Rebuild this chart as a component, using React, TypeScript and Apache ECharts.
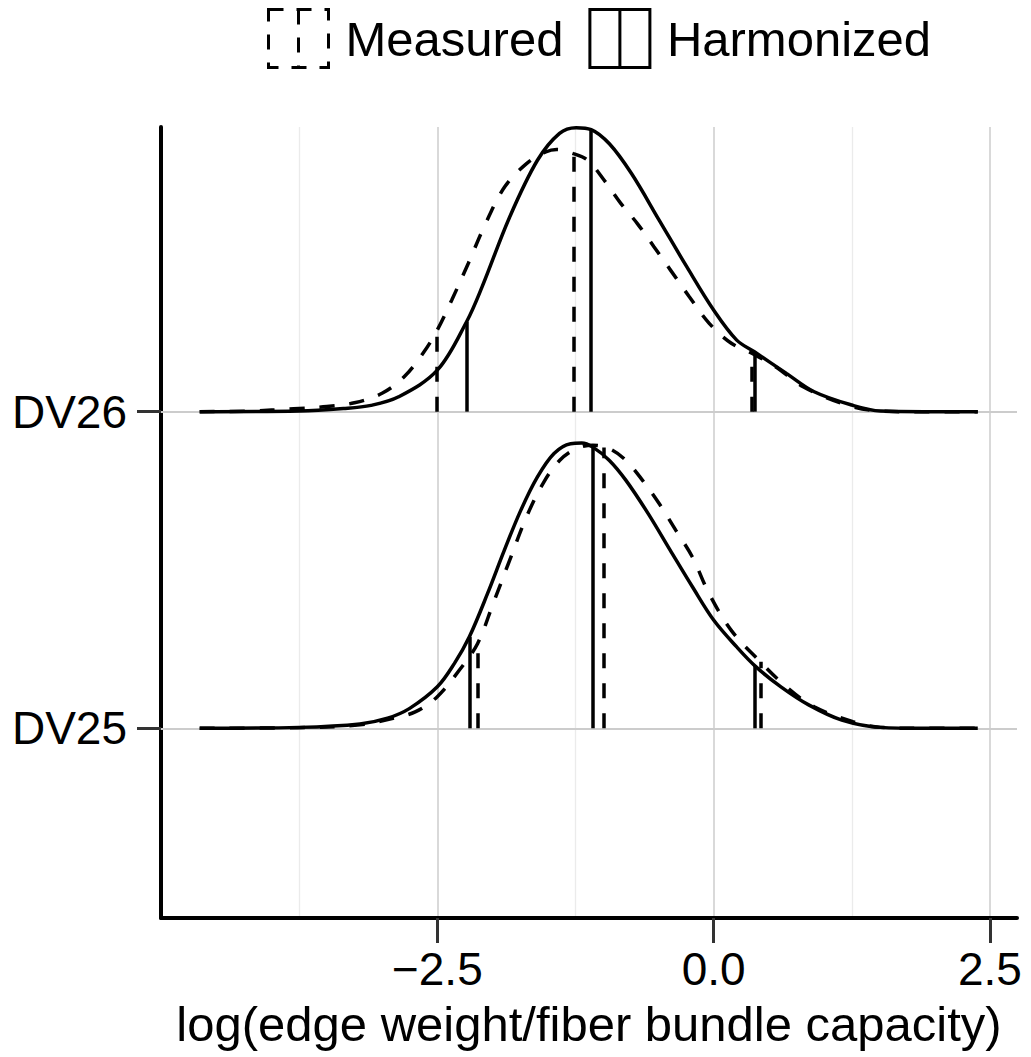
import React, { useEffect, useRef } from "react";
import * as echarts from "echarts";

// ---- Data ----
const groups = ["DV25", "DV26"];
const groupBaselines = [1, 2];

// Density heights in ridge units (1 = spacing between ridges)
const dv25HarmX = [-4.65, -3.75, -3.2, -2.95, -2.75, -2.5, -2.345, -2.21, -2.045, -1.894, -1.744, -1.594, -1.444, -1.294, -1.193, -1.093, -0.943, -0.793, -0.592, -0.392, -0.192, 0.0, 0.209, 0.384, 0.609, 0.86, 1.16, 1.51, 1.9, 2.39];
const dv25HarmH = [0, 0.003, 0.014, 0.032, 0.063, 0.131, 0.205, 0.289, 0.426, 0.562, 0.689, 0.794, 0.868, 0.899, 0.901, 0.888, 0.846, 0.783, 0.678, 0.562, 0.447, 0.342, 0.257, 0.194, 0.131, 0.074, 0.026, 0.003, 0, 0];

const dv25MeasX = [-4.65, -3.75, -3.2, -2.9, -2.7, -2.5, -2.3, -2.135, -1.995, -1.845, -1.694, -1.544, -1.394, -1.244, -1.093, -0.943, -0.793, -0.643, -0.493, -0.343, -0.192, -0.042, 0.158, 0.409, 0.659, 0.91, 1.26, 1.51, 1.9, 2.39];
const dv25MeasH = [0, 0.002, 0.011, 0.032, 0.052, 0.1, 0.184, 0.268, 0.394, 0.531, 0.667, 0.773, 0.846, 0.883, 0.894, 0.883, 0.846, 0.783, 0.71, 0.626, 0.541, 0.426, 0.31, 0.215, 0.131, 0.068, 0.021, 0.003, 0, 0];

const dv26HarmX = [-4.65, -3.75, -3.35, -3.1, -2.85, -2.5, -2.235, -2.095, -1.845, -1.594, -1.394, -1.244, -1.108, -0.943, -0.743, -0.493, -0.242, 0.0, 0.209, 0.369, 0.659, 0.91, 1.25, 1.51, 1.9, 2.39];
const dv26HarmH = [0, 0.002, 0.01, 0.02, 0.047, 0.131, 0.284, 0.394, 0.615, 0.794, 0.879, 0.897, 0.891, 0.846, 0.752, 0.605, 0.457, 0.321, 0.226, 0.189, 0.121, 0.063, 0.021, 0.002, 0, 0];

const dv26MeasX = [-4.65, -4.2, -3.8, -3.5, -3.25, -3.0, -2.8, -2.62, -2.5, -2.37, -2.22, -2.07, -1.89, -1.69, -1.52, -1.42, -1.27, -1.14, -0.99, -0.84, -0.69, -0.54, -0.39, -0.22, -0.04, 0.16, 0.35, 0.56, 0.81, 1.16, 1.41, 1.8, 2.39];
const dv26MeasH = [0, 0.002, 0.009, 0.016, 0.028, 0.058, 0.11, 0.189, 0.258, 0.352, 0.468, 0.589, 0.71, 0.784, 0.82, 0.828, 0.815, 0.794, 0.731, 0.658, 0.594, 0.521, 0.447, 0.363, 0.279, 0.216, 0.184, 0.142, 0.079, 0.026, 0.005, 0, 0];

// Quantile lines (2.5%, 50%, 97.5%)
const dv25MeasQ = [-2.135, -0.994, 0.424];
const dv25HarmQ = [-2.21, -1.093, 0.373];
const dv26MeasQ = [-2.505, -1.268, 0.349];
const dv26HarmQ = [-2.235, -1.108, 0.369];

const xTickValues = [-2.5, 0, 2.5];
const xMin = -5;
const xMax = 2.745;
const yMin = 0.401;
const yMax = 2.899;

const FONT = "Liberation Sans, Arial, Helvetica, sans-serif";
const DASH = [15, 15];
const LW = 3.5;

function interp(xs: number[], hs: number[], x: number): number {
  for (let i = 0; i < xs.length - 1; i++) {
    if (x >= xs[i] && x <= xs[i + 1]) {
      const t = (x - xs[i]) / (xs[i + 1] - xs[i]);
      return hs[i] + t * (hs[i + 1] - hs[i]);
    }
  }
  return 0;
}

function curve(xs: number[], hs: number[], base: number) {
  return xs.map((x, i) => [x, base + hs[i]]);
}

function qlines(q: number[], xs: number[], hs: number[], base: number) {
  return q.map((x) => ({ coords: [[x, base], [x, base + interp(xs, hs, x)]] }));
}

const boxIcon = "path://M0,0 L60,0 L60,58 L0,58 Z M30,0 L30,58";

export default function App() {
  const ref = useRef<HTMLDivElement>(null);
  useEffect(() => {
    if (!ref.current) return;
    const chart = echarts.init(ref.current, undefined, { renderer: "svg" });
    const b25 = groupBaselines[0];
    const b26 = groupBaselines[1];
    const lineSeries = (name: string, data: number[][], dashed: boolean, extra: any = {}) => ({
      type: "line",
      name,
      data,
      smooth: 0.35,
      showSymbol: false,
      symbol: "none",
      z: 3,
      lineStyle: { color: "#000", width: LW, type: dashed ? DASH : "solid", cap: "butt" },
      itemStyle: { color: "#000" },
      ...extra,
    });
    const qSeries = (name: string, data: any[], dashed: boolean) => ({
      type: "lines",
      name,
      coordinateSystem: "cartesian2d",
      polyline: false,
      z: 3,
      data,
      lineStyle: { color: "#000", width: LW, type: dashed ? DASH : "solid", opacity: 1 },
      symbol: "none",
    });
    chart.setOption({
      animation: false,
      backgroundColor: "#fff",
      textStyle: { fontFamily: FONT },
      legend: {
        left: 262,
        top: 3,
        itemWidth: 60,
        itemHeight: 58,
        itemGap: 25,
        selectedMode: false,
        textStyle: { fontSize: 49, color: "#000", fontFamily: FONT, padding: [0, 0, 0, 12] },
        data: [
          {
            name: "Measured",
            icon: boxIcon,
            itemStyle: { color: "rgba(0,0,0,0)", borderColor: "#000", borderWidth: 3, borderType: [15, 13] },
          },
          {
            name: "Harmonized",
            icon: boxIcon,
            itemStyle: { color: "rgba(0,0,0,0)", borderColor: "#000", borderWidth: 3, borderType: "solid" },
          },
        ],
      },
      grid: { left: 161, right: 14, top: 127, bottom: 139, containLabel: false },
      xAxis: {
        type: "value",
        min: xMin,
        max: xMax,
        interval: 2.5,
        name: "log(edge weight/fiber bundle capacity)",
        nameLocation: "middle",
        nameGap: 81,
        nameTextStyle: { fontSize: 49, color: "#000", fontFamily: FONT },
        axisLine: { show: true, onZero: false, lineStyle: { color: "#000", width: 4 } },
        axisTick: { show: true, length: 25, customValues: xTickValues, lineStyle: { color: "#333", width: 3 } },
        axisLabel: {
          show: true,
          customValues: xTickValues,
          margin: 28,
          fontSize: 46,
          color: "#000",
          fontFamily: FONT,
          formatter: (v: number) => v.toFixed(1).replace("-", "\u2212"),
        },
        splitLine: { show: true, lineStyle: { color: "#cccccc", width: 1.5 } },
        minorTick: { show: false, splitNumber: 2 },
        minorSplitLine: { show: true, lineStyle: { color: "#ebebeb", width: 1.3 } },
      },
      yAxis: {
        type: "value",
        min: yMin,
        max: yMax,
        axisLine: { show: true, onZero: false, lineStyle: { color: "#000", width: 4 } },
        axisTick: { show: true, length: 24, customValues: groupBaselines, lineStyle: { color: "#333", width: 3 } },
        axisLabel: {
          show: true,
          customValues: groupBaselines,
          margin: 34,
          fontSize: 46,
          color: "#000",
          fontFamily: FONT,
          formatter: (v: number) => groups[groupBaselines.indexOf(Math.round(v))] ?? "",
        },
        splitLine: { show: false },
      },
      series: [
        lineSeries("Measured", curve(dv25MeasX, dv25MeasH, b25), true, {
          markLine: {
            silent: true,
            symbol: "none",
            z: 1,
            label: { show: false },
            lineStyle: { color: "#cccccc", width: 2, type: "solid" },
            data: groupBaselines.map((b) => ({ yAxis: b })),
          },
        }),
        lineSeries("Harmonized", curve(dv25HarmX, dv25HarmH, b25), false),
        lineSeries("Measured", curve(dv26MeasX, dv26MeasH, b26), true),
        lineSeries("Harmonized", curve(dv26HarmX, dv26HarmH, b26), false),
        qSeries("Measured", qlines(dv25MeasQ, dv25MeasX, dv25MeasH, b25), true),
        qSeries("Harmonized", qlines(dv25HarmQ, dv25HarmX, dv25HarmH, b25), false),
        qSeries("Measured", qlines(dv26MeasQ, dv26MeasX, dv26MeasH, b26), true),
        qSeries("Harmonized", qlines(dv26HarmQ, dv26HarmX, dv26HarmH, b26), false),
      ],
    });
    return () => chart.dispose();
  }, []);
  return <div ref={ref} style={{ width: 1031, height: 1057, position: "absolute", left: 0, top: 0 }} />;
}
